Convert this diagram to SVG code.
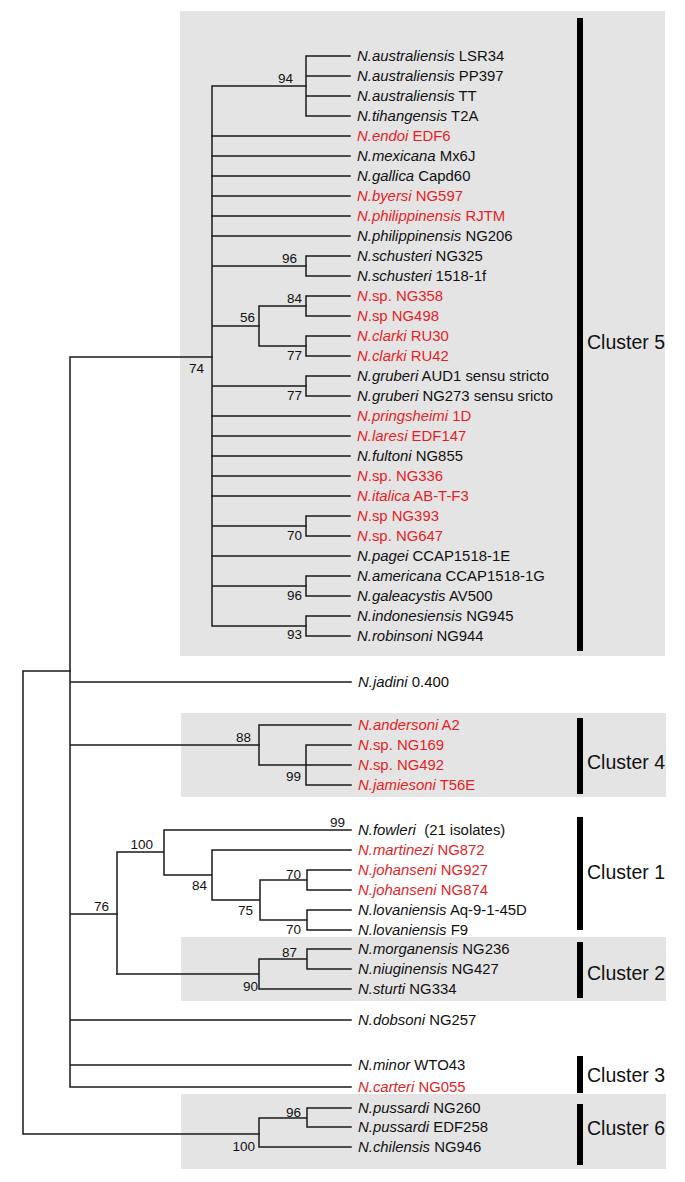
<svg xmlns="http://www.w3.org/2000/svg" width="685" height="1182" viewBox="0 0 685 1182">
<style>
.box{fill:#e4e4e4}
.bar{fill:#000}
.tree{fill:none;stroke:#1a1a1a;stroke-width:1.5;stroke-linecap:square}
.leaf{font-family:"Liberation Sans",Arial,sans-serif;font-size:14.9px;fill:#111}
.red{fill:#e41e26}
.i{font-style:italic}
.bs{font-family:"Liberation Sans",Arial,sans-serif;font-size:13.5px;fill:#111;text-anchor:end}
.cl{font-family:"Liberation Sans",Arial,sans-serif;font-size:19.5px;fill:#111}
</style>
<rect width="685" height="1182" fill="#fff"/>
<g id="boxes">
<rect class="box" x="180" y="11" width="485" height="645"/>
<rect class="box" x="181" y="713" width="485" height="84"/>
<rect class="box" x="181" y="937" width="485" height="64"/>
<rect class="box" x="181" y="1094" width="485" height="75"/>
</g>
<g id="connectors" class="tree">
<path d="M23,671V1134M23,671H70M23,1134H259"/>
<path d="M70,357V1087M70,357H212M70,682H351M70,745H259M70,914H117M70,1020H351M70,1065H351M70,1087H351"/>
<path d="M212,86V626M212,86H306M212,266H306M212,326H259M212,386H306M212,526H306M212,586H306M212,626H306"/>
<path d="M212,136H350M212,156H350M212,176H350M212,196H350M212,216H350M212,236H350M212,416H350M212,436H350M212,456H350M212,476H350M212,496H350M212,556H350"/>
<path d="M259,306V346M259,306H306M259,346H306"/>
<path d="M306,56V116M306,56H350M306,76H350M306,96H350M306,116H350"/>
<path d="M306,256V276M306,256H350M306,276H350M306,296V316M306,296H350M306,316H350M306,336V356M306,336H350M306,356H350M306,376V396M306,376H350M306,396H350"/>
<path d="M306,516V536M306,516H350M306,536H350M306,576V596M306,576H350M306,596H350M306,616V636M306,616H350M306,636H350"/>
<path d="M259,725V765M259,725H351M259,765H351M306,745V785M306,745H351M306,785H351"/>
<path d="M117,852V974M117,852H164M164,830V875M164,830H351M164,875H212M212,850V900M212,850H351M212,900H260M260,880V920M260,880H307M260,920H307M307,870V890M307,870H351M307,890H351M307,910V930M307,910H351M307,930H351"/>
<path d="M117,974H259M259,959V989M259,959H307M259,989H351M307,949V969M307,949H351M307,969H351"/>
<path d="M259,1118V1147M259,1118H307M259,1147H351M307,1108V1127M307,1108H351M307,1127H351"/>
</g>
<g id="bootstrap">
<text class="bs" x="293" y="83">94</text>
<text class="bs" x="297" y="263">96</text>
<text class="bs" x="302" y="303">84</text>
<text class="bs" x="255" y="322">56</text>
<text class="bs" x="302" y="360">77</text>
<text class="bs" x="302" y="400">77</text>
<text class="bs" x="204" y="373">74</text>
<text class="bs" x="302" y="540">70</text>
<text class="bs" x="302" y="600">96</text>
<text class="bs" x="302" y="639">93</text>
<text class="bs" x="251" y="742">88</text>
<text class="bs" x="301" y="781">99</text>
<text class="bs" x="345" y="827">99</text>
<text class="bs" x="153" y="849">100</text>
<text class="bs" x="207" y="890">84</text>
<text class="bs" x="253" y="915">75</text>
<text class="bs" x="301" y="879">70</text>
<text class="bs" x="301" y="934">70</text>
<text class="bs" x="109" y="911">76</text>
<text class="bs" x="297" y="957">87</text>
<text class="bs" x="258" y="991">90</text>
<text class="bs" x="301" y="1117">96</text>
<text class="bs" x="255" y="1151">100</text>
</g>
<g id="cluster5">
<rect class="bar" x="577" y="18" width="6" height="633"/>
<text class="cl" x="587" y="349">Cluster 5</text>
</g>
<g id="cluster4">
<rect class="bar" x="577" y="718" width="6" height="76"/>
<text class="cl" x="587" y="769">Cluster 4</text>
</g>
<g id="cluster1">
<rect class="bar" x="577" y="817" width="6" height="113"/>
<text class="cl" x="587" y="879">Cluster 1</text>
</g>
<g id="cluster2">
<rect class="bar" x="577" y="942" width="6" height="56"/>
<text class="cl" x="587" y="980">Cluster 2</text>
</g>
<g id="cluster3">
<rect class="bar" x="577" y="1056" width="6" height="37"/>
<text class="cl" x="587" y="1082">Cluster 3</text>
</g>
<g id="cluster6">
<rect class="bar" x="577" y="1104" width="6" height="61"/>
<text class="cl" x="587" y="1135">Cluster 6</text>
</g>
<g id="leaves">
<g id="n1"><text class="leaf" x="357" y="61"><tspan class="i">N.australiensis</tspan> LSR34</text></g>
<g id="n2"><text class="leaf" x="357" y="81"><tspan class="i">N.australiensis</tspan> PP397</text></g>
<g id="n3"><text class="leaf" x="357" y="101"><tspan class="i">N.australiensis</tspan> TT</text></g>
<g id="n4"><text class="leaf" x="357" y="121"><tspan class="i">N.tihangensis</tspan> T2A</text></g>
<g id="n5"><text class="leaf red" x="357" y="141"><tspan class="i">N.endoi</tspan> EDF6</text></g>
<g id="n6"><text class="leaf" x="357" y="161"><tspan class="i">N.mexicana</tspan> Mx6J</text></g>
<g id="n7"><text class="leaf" x="357" y="181"><tspan class="i">N.gallica</tspan> Capd60</text></g>
<g id="n8"><text class="leaf red" x="357" y="201"><tspan class="i">N.byersi</tspan> NG597</text></g>
<g id="n9"><text class="leaf red" x="357" y="221"><tspan class="i">N.philippinensis</tspan> RJTM</text></g>
<g id="n10"><text class="leaf" x="357" y="241"><tspan class="i">N.philippinensis</tspan> NG206</text></g>
<g id="n11"><text class="leaf" x="357" y="261"><tspan class="i">N.schusteri</tspan> NG325</text></g>
<g id="n12"><text class="leaf" x="357" y="281"><tspan class="i">N.schusteri</tspan> 1518-1f</text></g>
<g id="n13"><text class="leaf red" x="357" y="301"><tspan class="i">N</tspan>.sp. NG358</text></g>
<g id="n14"><text class="leaf red" x="357" y="321"><tspan class="i">N</tspan>.sp NG498</text></g>
<g id="n15"><text class="leaf red" x="357" y="341"><tspan class="i">N.clarki</tspan> RU30</text></g>
<g id="n16"><text class="leaf red" x="357" y="361"><tspan class="i">N.clarki</tspan> RU42</text></g>
<g id="n17"><text class="leaf" x="357" y="381"><tspan class="i">N.gruberi</tspan> AUD1 sensu stricto</text></g>
<g id="n18"><text class="leaf" x="357" y="401"><tspan class="i">N.gruberi</tspan> NG273 sensu sricto</text></g>
<g id="n19"><text class="leaf red" x="357" y="421"><tspan class="i">N.pringsheimi</tspan> 1D</text></g>
<g id="n20"><text class="leaf red" x="357" y="441"><tspan class="i">N.laresi</tspan> EDF147</text></g>
<g id="n21"><text class="leaf" x="357" y="461"><tspan class="i">N.fultoni</tspan> NG855</text></g>
<g id="n22"><text class="leaf red" x="357" y="481"><tspan class="i">N</tspan>.sp. NG336</text></g>
<g id="n23"><text class="leaf red" x="357" y="501"><tspan class="i">N.italica</tspan> AB-T-F3</text></g>
<g id="n24"><text class="leaf red" x="357" y="521"><tspan class="i">N</tspan>.sp NG393</text></g>
<g id="n25"><text class="leaf red" x="357" y="541"><tspan class="i">N</tspan>.sp. NG647</text></g>
<g id="n26"><text class="leaf" x="357" y="561"><tspan class="i">N.pagei</tspan> CCAP1518-1E</text></g>
<g id="n27"><text class="leaf" x="357" y="581"><tspan class="i">N.americana</tspan> CCAP1518-1G</text></g>
<g id="n28"><text class="leaf" x="357" y="601"><tspan class="i">N.galeacystis</tspan> AV500</text></g>
<g id="n29"><text class="leaf" x="357" y="621"><tspan class="i">N.indonesiensis</tspan> NG945</text></g>
<g id="n30"><text class="leaf" x="357" y="641"><tspan class="i">N.robinsoni</tspan> NG944</text></g>
<g id="n31"><text class="leaf" x="358" y="687"><tspan class="i">N.jadini</tspan> 0.400</text></g>
<g id="n32"><text class="leaf red" x="358" y="730"><tspan class="i">N.andersoni</tspan> A2</text></g>
<g id="n33"><text class="leaf red" x="358" y="750"><tspan class="i">N</tspan>.sp. NG169</text></g>
<g id="n34"><text class="leaf red" x="358" y="770"><tspan class="i">N</tspan>.sp. NG492</text></g>
<g id="n35"><text class="leaf red" x="358" y="790"><tspan class="i">N.jamiesoni</tspan> T56E</text></g>
<g id="n36"><text class="leaf" x="358" y="835" xml:space="preserve"><tspan class="i">N.fowleri</tspan>  (21 isolates)</text></g>
<g id="n37"><text class="leaf red" x="358" y="855"><tspan class="i">N.martinezi</tspan> NG872</text></g>
<g id="n38"><text class="leaf red" x="358" y="875"><tspan class="i">N.johanseni</tspan> NG927</text></g>
<g id="n39"><text class="leaf red" x="358" y="895"><tspan class="i">N.johanseni</tspan> NG874</text></g>
<g id="n40"><text class="leaf" x="358" y="915"><tspan class="i">N.lovaniensis</tspan> Aq-9-1-45D</text></g>
<g id="n41"><text class="leaf" x="358" y="935"><tspan class="i">N.lovaniensis</tspan> F9</text></g>
<g id="n42"><text class="leaf" x="358" y="954"><tspan class="i">N.morganensis</tspan> NG236</text></g>
<g id="n43"><text class="leaf" x="358" y="974"><tspan class="i">N.niuginensis</tspan> NG427</text></g>
<g id="n44"><text class="leaf" x="358" y="994"><tspan class="i">N.sturti</tspan> NG334</text></g>
<g id="n45"><text class="leaf" x="358" y="1025"><tspan class="i">N.dobsoni</tspan> NG257</text></g>
<g id="n46"><text class="leaf" x="358" y="1070"><tspan class="i">N.minor</tspan> WTO43</text></g>
<g id="n47"><text class="leaf red" x="358" y="1092"><tspan class="i">N.carteri</tspan> NG055</text></g>
<g id="n48"><text class="leaf" x="358" y="1113"><tspan class="i">N.pussardi</tspan> NG260</text></g>
<g id="n49"><text class="leaf" x="358" y="1132"><tspan class="i">N.pussardi</tspan> EDF258</text></g>
<g id="n50"><text class="leaf" x="358" y="1152"><tspan class="i">N.chilensis</tspan> NG946</text></g>
</g>
</svg>
